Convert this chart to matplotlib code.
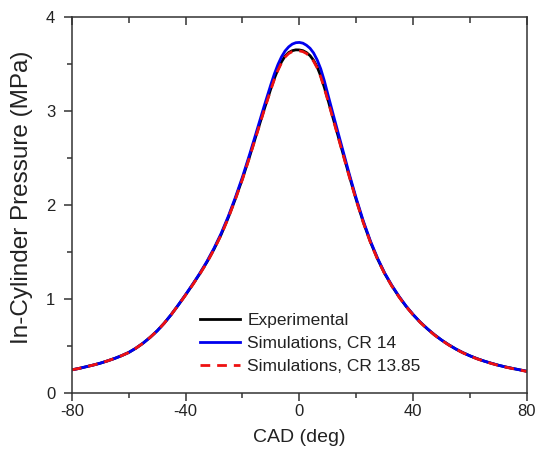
import matplotlib
matplotlib.use("Agg")
import matplotlib.pyplot as plt
from matplotlib.ticker import MultipleLocator

plt.rcParams['font.family'] = ['Liberation Sans', 'DejaVu Sans']
plt.rcParams['axes.unicode_minus'] = False

cad = [-80, -77.5, -75, -72.5, -70, -67.5, -65, -62.5, -60, -57.5, -55, -52.5, -50,
       -47.5, -45, -42.5, -40, -37.5, -35, -32.5, -30, -27.5, -25, -22.5, -20,
       -17.5, -15, -12.5, -10, -8.75, -7.5, -6.25, -5, -3.75, -2.5, -1.25, 0,
       1.25, 2.5, 3.75, 5, 6.25, 7.5, 8.75, 10, 12.5, 15,
       17.5, 20, 22.5, 25, 27.5, 30, 32.5, 35, 37.5, 40, 42.5, 45, 47.5, 50,
       52.5, 55, 57.5, 60, 62.5, 65, 67.5, 70, 72.5, 75, 77.5, 80]

p_exp = [0.245, 0.26, 0.278, 0.296, 0.316, 0.34, 0.366, 0.396, 0.43, 0.475, 0.528, 0.59, 0.66,
         0.742, 0.835, 0.937, 1.043, 1.153, 1.268, 1.392, 1.53, 1.685, 1.865, 2.065, 2.28,
         2.515, 2.76, 3.005, 3.24, 3.35, 3.445, 3.525, 3.585, 3.622, 3.642, 3.651, 3.65,
         3.642, 3.622, 3.59, 3.54, 3.47, 3.375, 3.255, 3.125, 2.855, 2.585,
         2.315, 2.055, 1.815, 1.605, 1.425, 1.27, 1.14, 1.025, 0.922, 0.832, 0.752, 0.682, 0.618, 0.562,
         0.512, 0.467, 0.428, 0.394, 0.364, 0.338, 0.315, 0.294, 0.276, 0.26, 0.245, 0.23]

p_cr14 = [0.245, 0.26, 0.278, 0.296, 0.316, 0.34, 0.366, 0.396, 0.43, 0.475, 0.528, 0.59, 0.66,
          0.742, 0.836, 0.939, 1.046, 1.157, 1.273, 1.399, 1.54, 1.697, 1.878, 2.08, 2.298,
          2.537, 2.787, 3.04, 3.283, 3.398, 3.497, 3.578, 3.64, 3.683, 3.712, 3.727, 3.73,
          3.722, 3.70, 3.668, 3.618, 3.545, 3.45, 3.325, 3.18, 2.895, 2.615,
          2.335, 2.07, 1.828, 1.615, 1.433, 1.276, 1.145, 1.029, 0.925, 0.834, 0.753, 0.683, 0.619, 0.562,
          0.512, 0.467, 0.428, 0.394, 0.364, 0.338, 0.315, 0.294, 0.276, 0.26, 0.245, 0.23]

p_cr1385 = [0.245, 0.26, 0.278, 0.296, 0.316, 0.34, 0.366, 0.396, 0.43, 0.475, 0.528, 0.59, 0.66,
            0.742, 0.835, 0.936, 1.041, 1.15, 1.265, 1.386, 1.527, 1.681, 1.86, 2.06, 2.274,
            2.508, 2.752, 2.996, 3.23, 3.34, 3.435, 3.515, 3.575, 3.612, 3.632, 3.641, 3.64,
            3.632, 3.612, 3.58, 3.53, 3.46, 3.365, 3.245, 3.115, 2.845, 2.575,
            2.307, 2.048, 1.81, 1.6, 1.421, 1.267, 1.137, 1.022, 0.92, 0.83, 0.75, 0.68, 0.616, 0.56,
            0.51, 0.465, 0.426, 0.392, 0.362, 0.336, 0.313, 0.292, 0.274, 0.258, 0.243, 0.228]

labels = ["Experimental", "Simulations, CR 14", "Simulations, CR 13.85"]
x_ticks = [-80, -40, 0, 40, 80]
y_ticks = [0, 1, 2, 3, 4]

fig = plt.figure(figsize=(5.36, 4.49), dpi=100)
ax = fig.add_axes([0.134, 0.125, 0.849, 0.837])

ax.plot(cad, p_exp, color='black', lw=2.0, label=labels[0])
ax.plot(cad, p_cr14, color='#0000ee', lw=2.0, label=labels[1])
ax.plot(cad, p_cr1385, color='#ee1111', lw=2.0, ls=(0, (3.5, 2.5)), label=labels[2])

ax.set_xlim(-80, 80)
ax.set_ylim(0, 4)
ax.set_xticks(x_ticks)
ax.set_yticks(y_ticks)
ax.xaxis.set_minor_locator(MultipleLocator(20))
ax.yaxis.set_minor_locator(MultipleLocator(0.5))

spine_col = '#333333'
for s in ax.spines.values():
    s.set_color(spine_col)
    s.set_linewidth(1.1)

ax.tick_params(axis='both', which='major', direction='out', length=6, width=1.1,
               color=spine_col, labelsize=12, labelcolor='#222222', pad=2)
ax.tick_params(axis='y', which='major', pad=6)
ax.tick_params(axis='both', which='minor', direction='out', length=3.5, width=1.1,
               color=spine_col)

top = ax.secondary_xaxis('top')
top.set_xticks(x_ticks)
top.xaxis.set_minor_locator(MultipleLocator(20))
top.tick_params(which='major', direction='in', length=6, width=1.1, color=spine_col,
                labeltop=False)
top.tick_params(which='minor', direction='in', length=4, width=1.1, color=spine_col)
top.spines['top'].set_visible(False)

ax.set_xlabel("CAD (deg)", fontsize=14, color='#222222', labelpad=7)
ax.set_ylabel("In-Cylinder Pressure (MPa)", fontsize=17.5, color='#222222')
ax.yaxis.set_label_coords(-0.086, 0.521)

leg = ax.legend(loc='upper left', bbox_to_anchor=(0.281, 0.212), frameon=False,
                fontsize=12.5, handlelength=2.3, handletextpad=0.45, labelspacing=0.44,
                borderpad=0, borderaxespad=0)
for t in leg.get_texts():
    t.set_color('#222222')

fig.savefig("out.png", dpi=100)
